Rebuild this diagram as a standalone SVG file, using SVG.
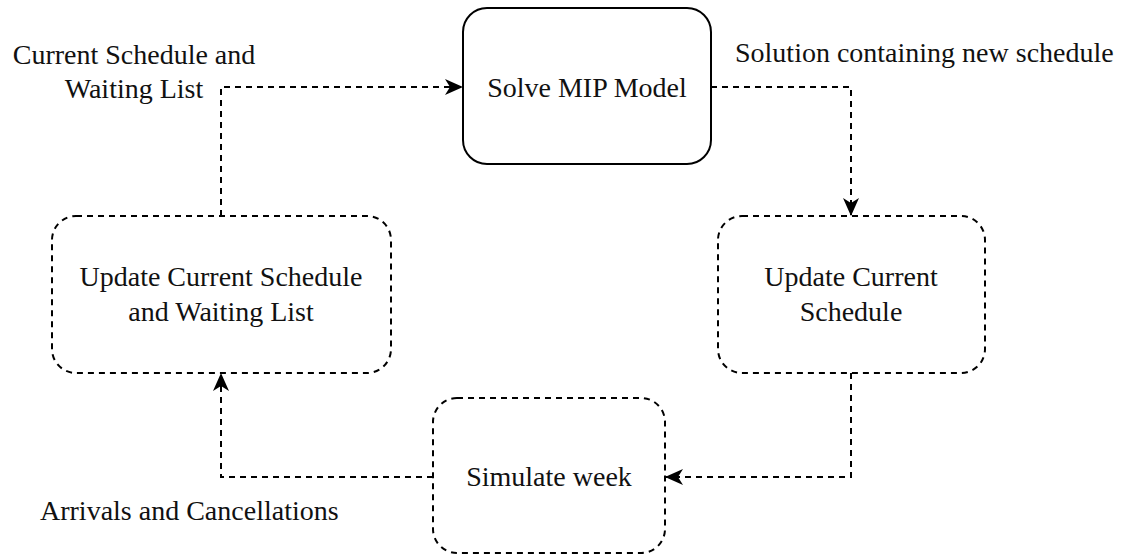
<svg xmlns="http://www.w3.org/2000/svg" width="1131" height="555" viewBox="0 0 1131 555">
  <style>
    .box { fill: #ffffff; stroke: #000000; stroke-width: 2; }
    .dash { stroke-dasharray: 6 5; }
    .edge { fill: none; stroke: #000000; stroke-width: 2; stroke-dasharray: 6 5; }
    text { font-family: "Liberation Serif", "Times New Roman", serif; font-size: 28px; fill: #111111; }
    .c { text-anchor: middle; }
  </style>
  <defs>
    <!-- classic notched arrowhead, sized in stroke-width units (stroke 2 → 18×16 px) -->
    <marker id="arrow" viewBox="0 0 18 16" refX="17" refY="8" markerWidth="9" markerHeight="8" orient="auto">
      <path d="M0,0 L18,8 L0,16 L5,8 Z" fill="#000000"/>
    </marker>
  </defs>

  <rect width="1131" height="555" fill="#ffffff"/>

  <g id="connectors">
    <path class="edge" d="M221,216 L221,87 L462,87" marker-end="url(#arrow)"/>
    <path class="edge" d="M711,87 L851,87 L851,215" marker-end="url(#arrow)"/>
    <path class="edge" d="M851,373 L851,477 L666,477" marker-end="url(#arrow)"/>
    <path class="edge" d="M433,477 L221,477 L221,374" marker-end="url(#arrow)"/>
  </g>

  <g id="solve-mip">
    <rect class="box" x="463" y="8" width="248" height="156" rx="24" ry="24"/>
    <text class="c" x="587" y="97">Solve MIP Model</text>
  </g>

  <g id="update-schedule">
    <rect class="box dash" x="718" y="216" width="267" height="157" rx="24" ry="24"/>
    <text class="c" x="851" y="286">Update Current</text>
    <text class="c" x="851" y="321">Schedule</text>
  </g>

  <g id="simulate-week">
    <rect class="box dash" x="433" y="398" width="232" height="155" rx="24" ry="24"/>
    <text class="c" x="549" y="486">Simulate week</text>
  </g>

  <g id="update-schedule-waiting">
    <rect class="box dash" x="52" y="216" width="339" height="157" rx="24" ry="24"/>
    <text class="c" x="221" y="286">Update Current Schedule</text>
    <text class="c" x="221" y="321">and Waiting List</text>
  </g>

  <g id="labels">
    <text class="c" x="134" y="64">Current Schedule and</text>
    <text class="c" x="134" y="98">Waiting List</text>
    <text x="735" y="62">Solution containing new schedule</text>
    <text x="40" y="520">Arrivals and Cancellations</text>
  </g>
</svg>
